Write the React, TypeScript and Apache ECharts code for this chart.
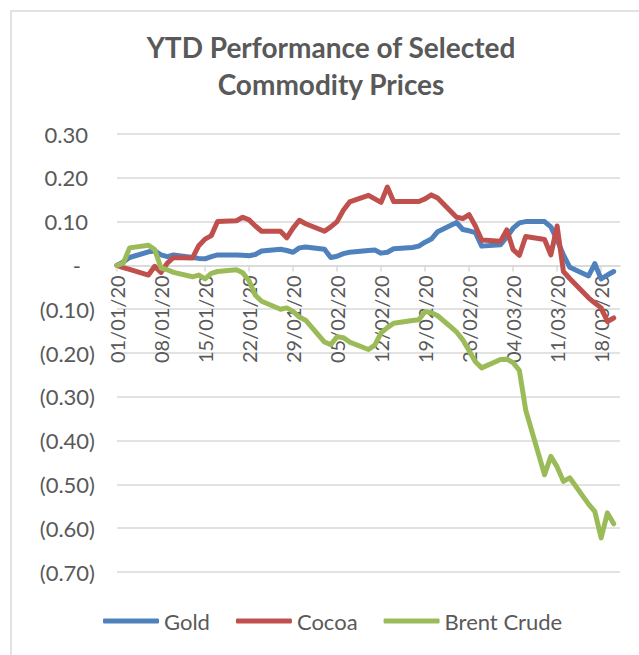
import React, { useEffect, useRef } from "react";
import * as echarts from "echarts";

// Trading days (ISO dates)
const dates = [
  "2020-01-01", "2020-01-02", "2020-01-03", "2020-01-06", "2020-01-07", "2020-01-08", "2020-01-09", "2020-01-10",
  "2020-01-13", "2020-01-14", "2020-01-15", "2020-01-16", "2020-01-17", "2020-01-20", "2020-01-21", "2020-01-22",
  "2020-01-23", "2020-01-24", "2020-01-27", "2020-01-28", "2020-01-29", "2020-01-30", "2020-01-31",
  "2020-02-03", "2020-02-04", "2020-02-05", "2020-02-06", "2020-02-07", "2020-02-10", "2020-02-11", "2020-02-12",
  "2020-02-13", "2020-02-14", "2020-02-17", "2020-02-18", "2020-02-19", "2020-02-20", "2020-02-21", "2020-02-24",
  "2020-02-25", "2020-02-26", "2020-02-27", "2020-02-28",
  "2020-03-02", "2020-03-03", "2020-03-04", "2020-03-05", "2020-03-06", "2020-03-09", "2020-03-10", "2020-03-11",
  "2020-03-12", "2020-03-13", "2020-03-16", "2020-03-17", "2020-03-18", "2020-03-19", "2020-03-20",
];

const gold = [
  0, 0.008, 0.018, 0.031, 0.033, 0.024, 0.02, 0.024,
  0.018, 0.016, 0.015, 0.02, 0.024, 0.024, 0.023, 0.022,
  0.025, 0.033, 0.037, 0.034, 0.03, 0.04, 0.042,
  0.037, 0.018, 0.021, 0.027, 0.03, 0.034, 0.035, 0.028,
  0.03, 0.038, 0.041, 0.044, 0.053, 0.06, 0.077, 0.098,
  0.082, 0.079, 0.075, 0.044,
  0.047, 0.065, 0.085, 0.097, 0.1, 0.1, 0.088, 0.058,
  0.024, -0.004, -0.024, 0.004, -0.031, -0.022, -0.014,
];

const cocoa = [
  0, -0.005, -0.009, -0.022, -0.002, -0.016, 0.005, 0.018,
  0.017, 0.045, 0.06, 0.068, 0.1, 0.102, 0.11, 0.104,
  0.09, 0.078, 0.078, 0.063, 0.085, 0.103, 0.095,
  0.078, 0.088, 0.1, 0.126, 0.145, 0.16, 0.152, 0.144,
  0.179, 0.146, 0.146, 0.146, 0.152, 0.161, 0.154, 0.11,
  0.107, 0.116, 0.09, 0.058,
  0.055, 0.081, 0.036, 0.023, 0.066, 0.059, 0.024, 0.09,
  -0.014, -0.03, -0.074, -0.086, -0.097, -0.128, -0.12,
];

const brent = [
  0, 0.005, 0.04, 0.046, 0.036, -0.006, -0.01, -0.016,
  -0.026, -0.022, -0.031, -0.018, -0.014, -0.01, -0.017, -0.035,
  -0.068, -0.082, -0.1, -0.097, -0.105, -0.118, -0.125,
  -0.175, -0.181, -0.163, -0.165, -0.175, -0.192, -0.182, -0.154,
  -0.142, -0.132, -0.126, -0.124, -0.105, -0.108, -0.115, -0.152,
  -0.17, -0.195, -0.22, -0.234,
  -0.215, -0.214, -0.222, -0.24, -0.33, -0.478, -0.436, -0.46,
  -0.493, -0.485, -0.545, -0.562, -0.622, -0.565, -0.59,
];

const xTickLabels = [
  "01/01/20", "08/01/20", "15/01/20", "22/01/20", "29/01/20", "05/02/20",
  "12/02/20", "19/02/20", "26/02/20", "04/03/20", "11/03/20", "18/03/20",
];

const seriesNames = ["Gold", "Cocoa", "Brent Crude"];
const titleLines = ["YTD Performance of Selected", "Commodity Prices"];

const FONT = "Lato, 'Open Sans', sans-serif";
const TEXT = "#595959";
const GRID = "#d9d9d9";

const Y_MIN = -0.7;
const Y_MAX = 0.3;
const GRID_TOP = 134;
const GRID_BOTTOM = 83;
const H = 655;

export default function App() {
  const ref = useRef<HTMLDivElement>(null);

  useEffect(() => {
    if (!ref.current) return;
    const chart = echarts.init(ref.current, null, { renderer: "svg" });
    const t0 = Date.parse(dates[0]);
    const days = dates.map((d) => Math.round((Date.parse(d) - t0) / 86400000));
    const tickDays = xTickLabels.map((_, i) => i * 7);
    const mk = (arr: number[]) => days.map((d, i) => [d, arr[i]]);

    // move the date axis up so that it crosses the value axis at zero
    const gridH = H - GRID_TOP - GRID_BOTTOM;
    const xOffset = -gridH * (0 - Y_MIN) / (Y_MAX - Y_MIN);

    const yFmt = (v: number) => {
      const r = Math.round(v * 100) / 100;
      if (Math.abs(r) < 1e-9) return "{z|-}";
      if (r > 0) return "{p|" + r.toFixed(2) + "}";
      return "{n|(" + Math.abs(r).toFixed(2) + ")}";
    };
    const lblStyle = { fontFamily: FONT, fontSize: 22, color: TEXT };

    chart.setOption({
      animation: false,
      backgroundColor: "#ffffff",
      color: ["#4f81bd", "#c0504d", "#9bbb59"],
      graphic: [
        {
          type: "rect",
          shape: { x: 11, y: 11, width: 700, height: 700 },
          style: { fill: "none", stroke: GRID, lineWidth: 1.5 },
          silent: true,
        },
        {
          type: "text",
          x: 331,
          y: 47,
          style: {
            text: titleLines[0],
            fontFamily: FONT,
            fontSize: 28,
            fontWeight: "bold",
            fill: TEXT,
            align: "center",
            verticalAlign: "middle",
            textAlign: "center",
            textVerticalAlign: "middle",
          },
        },
        {
          type: "text",
          x: 331,
          y: 84,
          style: {
            text: titleLines[1],
            fontFamily: FONT,
            fontSize: 28,
            fontWeight: "bold",
            fill: TEXT,
            align: "center",
            verticalAlign: "middle",
            textAlign: "center",
            textVerticalAlign: "middle",
          },
        },
      ],
      grid: {
        left: 117,
        right: 19,
        top: GRID_TOP,
        bottom: GRID_BOTTOM,
        containLabel: false,
        outerBoundsMode: "none",
      },
      legend: {
        data: seriesNames,
        left: 103,
        top: 610,
        padding: 0,
        icon: "roundRect",
        itemWidth: 56,
        itemHeight: 5,
        itemGap: 26,
        textStyle: { fontFamily: FONT, fontSize: 22, color: TEXT },
      },
      xAxis: {
        type: "value",
        position: "bottom",
        offset: xOffset,
        min: 0,
        max: 80,
        interval: 7,
        axisLine: { onZero: false, lineStyle: { color: GRID, width: 1.5 } },
        axisTick: {
          show: true,
          length: 6,
          customValues: tickDays,
          lineStyle: { color: GRID, width: 1.5 },
        },
        axisLabel: {
          rotate: 90,
          margin: 10,
          padding: [6, 0, 0, 0],
          customValues: tickDays,
          fontFamily: FONT,
          fontSize: 20,
          color: TEXT,
          formatter: (v: number) => xTickLabels[Math.round(v / 7)] ?? "",
        },
        splitLine: { show: false },
      },
      yAxis: {
        type: "value",
        min: Y_MIN,
        max: Y_MAX,
        interval: 0.1,
        axisLine: { show: false, onZero: false },
        axisTick: { show: false },
        splitLine: { lineStyle: { color: GRID, width: 1.5 } },
        axisLabel: {
          margin: 22,
          formatter: yFmt,
          ...lblStyle,
          rich: {
            p: { ...lblStyle, padding: [0, 7, 0, 0] },
            z: { ...lblStyle, padding: [0, 14, 0, 0] },
            n: { ...lblStyle },
          },
        },
      },
      series: [
        { name: seriesNames[0], data: mk(gold) },
        { name: seriesNames[1], data: mk(cocoa) },
        { name: seriesNames[2], data: mk(brent) },
      ].map((s) => ({
        ...s,
        type: "line",
        showSymbol: false,
        symbol: "none",
        lineStyle: { width: 5, cap: "round", join: "round" },
      })),
    });
    return () => chart.dispose();
  }, []);

  return (
    <div
      ref={ref}
      style={{ position: "fixed", left: 0, top: 0, width: 639, height: 655, background: "#fff" }}
    />
  );
}
